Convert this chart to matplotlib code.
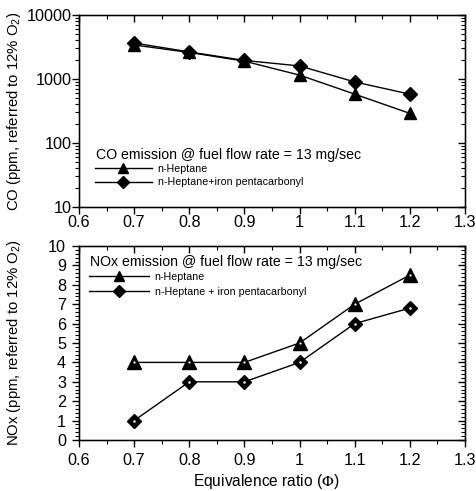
import matplotlib
matplotlib.use("Agg")
import matplotlib.pyplot as plt
from matplotlib.ticker import MultipleLocator, LogLocator, NullFormatter
import numpy as np

phi = [0.7, 0.8, 0.9, 1.0, 1.1, 1.2]
co_heptane = [3400, 2600, 1900, 1150, 580, 290]
co_iron = [3650, 2650, 1950, 1600, 900, 580]
nox_heptane = [4, 4, 4, 5, 7, 8.5]
nox_iron = [1, 3, 3, 4, 6, 6.8]

xticks = [0.6, 0.7, 0.8, 0.9, 1.0, 1.1, 1.2, 1.3]
xticklabels = ["0.6", "0.7", "0.8", "0.9", "1", "1.1", "1.2", "1.3"]

plt.rcParams['font.family'] = ['Liberation Sans', 'DejaVu Sans']
plt.rcParams['mathtext.fontset'] = 'custom'
plt.rcParams['mathtext.rm'] = 'Liberation Sans'
plt.rcParams['mathtext.it'] = 'Liberation Sans'
plt.rcParams['mathtext.sf'] = 'Liberation Sans'

W, H = 477, 491
fig = plt.figure(figsize=(W / 100, H / 100), dpi=100)

def fx(px):
    return px / W

def fy(py):
    return 1 - py / H

ax1 = fig.add_axes([fx(79), fy(207), fx(465) - fx(79), fy(15) - fy(207)])
ax2 = fig.add_axes([fx(79), fy(440), fx(465) - fx(79), fy(246) - fy(440)])

TICK_FS = 11.7

def style(ax, log=False, ypad=0, xpad=0):
    ax.set_xlim(0.6, 1.3)
    ax.set_xticks(xticks)
    ax.set_xticklabels(xticklabels)
    ax.xaxis.set_minor_locator(MultipleLocator(0.05))
    ax.tick_params(axis='both', which='major', direction='out', length=5, width=1,
                   labelsize=TICK_FS, top=False, right=False)
    ax.tick_params(axis='both', which='minor', direction='out', length=3, width=0.8,
                   top=False, right=False)
    ax.tick_params(axis='x', which='major', pad=xpad)
    ax.tick_params(axis='y', which='major', pad=ypad)
    for s in ax.spines.values():
        s.set_linewidth(1)
    tx = ax.twiny()
    tx.set_xlim(ax.get_xlim())
    tx.set_xticks(xticks)
    tx.xaxis.set_minor_locator(MultipleLocator(0.05))
    tx.tick_params(axis='x', which='major', direction='in', length=5, width=1, labeltop=False)
    tx.tick_params(axis='x', which='minor', direction='in', length=3, width=0.8)
    ty = ax.twinx()
    if log:
        ty.set_yscale('log')
    ty.set_ylim(ax.get_ylim())
    ty.set_yticks(ax.get_yticks())
    ty.set_ylim(ax.get_ylim())
    if log:
        ty.yaxis.set_minor_locator(LogLocator(base=10, subs=np.arange(2, 10)))
        ty.yaxis.set_minor_formatter(NullFormatter())
    else:
        ty.yaxis.set_minor_locator(MultipleLocator(0.2))
    ty.tick_params(axis='y', which='major', direction='in', length=5, width=1, labelright=False)
    ty.tick_params(axis='y', which='minor', direction='in', length=3, width=0.8)

# ---------- Top: CO ----------
ax1.set_yscale('log')
l1, = ax1.plot(phi, co_heptane, color='black', lw=1, marker='^', ms=9, mfc='black', mec='black', zorder=3)
l2, = ax1.plot(phi, co_iron, color='black', lw=1, marker='D', ms=7.5, mfc='black', mec='black', zorder=3)
ax1.set_ylim(10, 10000)
ax1.set_yticks([10, 100, 1000, 10000])
ax1.set_yticklabels(["10", "100", "1000", "10000"])
ax1.yaxis.set_minor_locator(LogLocator(base=10, subs=np.arange(2, 10)))
ax1.yaxis.set_minor_formatter(NullFormatter())
ax1.set_ylabel("CO (ppm, referred to 12% O$_2$)", fontsize=10.7)
ax1.yaxis.set_label_coords(-0.145, 0.5)
style(ax1, log=True, ypad=0, xpad=0.5)

fig.text(fx(96), fy(155), "CO emission @ fuel flow rate = 13 mg/sec",
         fontsize=10.2, ha='left', va='center')
leg1 = ax1.legend([l1, l2], ["n-Heptane", "n-Heptane+iron pentacarbonyl"],
                  loc='upper left', bbox_to_anchor=(fx(95), fy(164)),
                  bbox_transform=fig.transFigure,
                  frameon=False, fontsize=7.7,
                  handlelength=5.3, handletextpad=0.55, labelspacing=0.32,
                  markerscale=0.8, borderpad=0, borderaxespad=0)

# ---------- Bottom: NOx ----------
l3, = ax2.plot(phi, nox_heptane, color='black', lw=1, marker='^', ms=9.5, mfc='black',
               mec='black', zorder=3)
l4, = ax2.plot(phi, nox_iron, color='black', lw=1, marker='D', ms=7.5, mfc='black',
               mec='black', zorder=3)
ax2.plot(phi, nox_heptane, ls='none', marker='o', ms=1.6, mfc='white', mec='none', zorder=4)
ax2.plot(phi, nox_iron, ls='none', marker='o', ms=1.8, mfc='white', mec='none', zorder=4)
ax2.set_ylim(0, 10)
ax2.set_yticks(range(0, 11))
ax2.yaxis.set_minor_locator(MultipleLocator(0.2))
ax2.set_ylabel("NOx (ppm, referred to 12% O$_2$)", fontsize=10.7)
ax2.yaxis.set_label_coords(-0.145, 0.5)
ax2.set_xlabel(r"Equivalence ratio ($\Phi$)", fontsize=11.2, math_fontfamily='stix')
ax2.xaxis.set_label_coords(0.486, -0.165)
style(ax2, log=False, ypad=4.3, xpad=4.5)

fig.text(fx(90), fy(262), "NOx emission @ fuel flow rate = 13 mg/sec",
         fontsize=10.2, ha='left', va='center')
leg2 = ax2.legend([l3, l4], ["n-Heptane", "n-Heptane + iron pentacarbonyl"],
                  loc='upper left', bbox_to_anchor=(fx(89), fy(272)),
                  bbox_transform=fig.transFigure,
                  frameon=False, fontsize=7.7,
                  handlelength=5.6, handletextpad=0.55, labelspacing=0.45,
                  markerscale=0.8, borderpad=0, borderaxespad=0)

fig.savefig("out.png", dpi=100)
